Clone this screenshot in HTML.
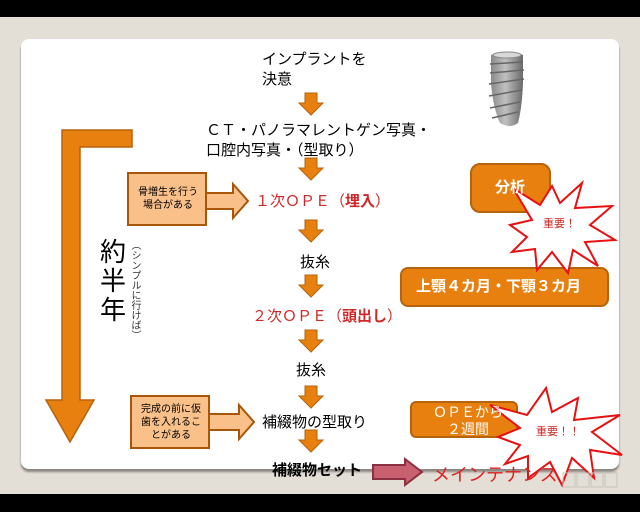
<!DOCTYPE html>
<html><head><meta charset="utf-8"><style>
body{margin:0;width:640px;height:512px;background:#e4dfd6;position:relative;overflow:hidden;font-family:"Liberation Sans","Noto Sans CJK JP",sans-serif}
.t{position:absolute;white-space:nowrap;line-height:1}
</style></head><body>
<div style="position:absolute;left:0;top:0;width:640px;height:17px;background:#000"></div>
<div style="position:absolute;left:0;top:494px;width:640px;height:18px;background:#000"></div>
<div style="position:absolute;left:21px;top:39px;width:598px;height:430px;background:#fff;border-radius:8px;box-shadow:0 3px 2px #8a8580"></div>
<svg width="640" height="512" style="position:absolute;left:0;top:0">
<defs>
<g id="da"><path d="M-6,0 h12 v10 h6 l-12,12 l-12,-12 h6z" fill="#e8800f" stroke="#b5630c" stroke-width="1"/></g>
<linearGradient id="ig" x1="0" x2="1"><stop offset="0" stop-color="#8a8a8a"/><stop offset=".45" stop-color="#c0c0c0"/><stop offset="1" stop-color="#6a6a6a"/></linearGradient>
</defs>
<!-- implant -->
<path d="M491,55 q16,-7 32,0 v28 q-1,25 -5,40 q-8,6 -18,0 q-7,-15 -9,-40z" fill="url(#ig)"/>
<ellipse cx="507" cy="55" rx="14" ry="3" fill="#d8d8d8" stroke="#888"/>
<g stroke="#666" stroke-width="1.5" fill="none"><path d="M490,64 l33,-2 M490,73 l34,-3 M489,84 l35,-5 M489,96 l33,-6 M490,108 l30,-6 M492,118 l26,-6"/></g>
<use href="#da" x="311" y="93"/>
<use href="#da" x="311" y="158"/>
<use href="#da" x="311" y="220"/>
<use href="#da" x="311" y="275"/>
<use href="#da" x="311" y="330"/>
<use href="#da" x="311" y="386"/>
<use href="#da" x="311" y="430"/>
<!-- big L arrow -->
<path d="M62,130 h70 v17 h-52 v253 h14 l-24,42 l-24,-42 h16z" fill="#e8800f" stroke="#b5630c" stroke-width="1.5"/>
<!-- side boxes -->
<rect x="128" y="173" width="78" height="52" fill="#f9c08a" stroke="#a8560a" stroke-width="2"/>
<path d="M206,193 h27 v-9 l15,17 l-15,17 v-9 h-27z" fill="#f9c08a" stroke="#a8560a" stroke-width="2"/>
<rect x="131" y="396" width="78" height="52" fill="#f9c08a" stroke="#a8560a" stroke-width="2"/>
<path d="M209,414 h30 v-9 l15,17 l-15,17 v-9 h-30z" fill="#f9c08a" stroke="#a8560a" stroke-width="2"/>
<!-- right boxes -->
<rect x="471" y="164" width="79" height="48" rx="9" fill="#e8800f" stroke="#b5630c" stroke-width="2"/>
<rect x="401" y="268" width="207" height="38" rx="7" fill="#e8800f" stroke="#b5630c" stroke-width="2"/>
<rect x="411" y="402" width="106" height="35" rx="5" fill="#e8800f" stroke="#b5630c" stroke-width="2"/>
<!-- stars -->
<polygon points="513,188 540,205 552,186 560,203 582,183 575,208 612,206 590,225 615,240 585,242 598,266 573,250 568,273 552,252 537,270 535,249 512,252 527,237 510,225 532,220" fill="#fff" stroke="#e81010" stroke-width="2"/>
<polygon points="490,405 527,415 546,388 552,412 578,398 574,420 620,415 592,432 622,455 590,450 594,478 572,458 562,485 550,462 528,478 528,456 505,464 520,445 498,437 520,428" fill="#fff" stroke="#e81010" stroke-width="2"/>
<!-- pink arrow -->
<path d="M373,465 h32 v-6 l17,13 l-17,13 v-6 h-32z" fill="#c86070" stroke="#8b3040" stroke-width="2"/>
<g fill="none" stroke="#c8c3bb" stroke-width="1"><rect x="563" y="473" width="12" height="14"/><rect x="577" y="473" width="12" height="14"/><rect x="591" y="473" width="12" height="14"/><rect x="605" y="473" width="12" height="14"/></g>
</svg>
<div class="t" style="left:262px;top:52px;font-size:15px">インプラントを</div>
<div class="t" style="left:262px;top:72px;font-size:15px">決意</div>
<div class="t" style="left:206px;top:123px;font-size:15px">ＣＴ・パノラマレントゲン写真・</div>
<div class="t" style="left:206px;top:143px;font-size:15px">口腔内写真・（型取り）</div>
<div class="t" style="left:255px;top:194px;font-size:15px;color:#d02828">１次ＯＰＥ（<b>埋入</b>）</div>
<div class="t" style="left:300px;top:255px;font-size:15px">抜糸</div>
<div class="t" style="left:252px;top:309px;font-size:15px;color:#d02828">２次ＯＰＥ（<b>頭出し</b>）</div>
<div class="t" style="left:296px;top:363px;font-size:15px">抜糸</div>
<div class="t" style="left:262px;top:415px;font-size:15px">補綴物の型取り</div>
<div class="t" style="left:272px;top:463px;font-size:15px;font-weight:bold">補綴物セット</div>
<div class="t" style="left:432px;top:466px;font-size:18px;color:#e02020">メインテナンス</div>
<div class="t" style="left:136px;top:186px;font-size:10px;line-height:13px;text-align:center;width:64px;white-space:normal">骨増生を行う場合がある</div>
<div class="t" style="left:139px;top:403px;font-size:10px;line-height:13px;text-align:center;width:64px;white-space:normal">完成の前に仮歯を入れることがある</div>
<div class="t" style="left:495px;top:180px;font-size:15px;color:#fff;font-weight:bold">分析</div>
<div class="t" style="left:416px;top:279px;font-size:15px;color:#fff;font-weight:bold">上顎４カ月・下顎３カ月</div>
<div class="t" style="left:428px;top:404px;font-size:14px;color:#fff;line-height:17px;text-align:center;width:80px;white-space:normal">ＯＰＥから２週間</div>
<div class="t" style="left:543px;top:219px;font-size:11px;color:#d02828">重要！</div>
<div class="t" style="left:536px;top:427px;font-size:11px;color:#d02828">重要！！</div>
<div class="t" style="left:100px;top:238px;font-size:26px;width:28px;line-height:29px;white-space:normal">約半年</div>
<div class="t" style="left:129px;top:240px;font-size:10px;writing-mode:vertical-rl;color:#333">（シンプルに行けば）</div>
</body></html>
